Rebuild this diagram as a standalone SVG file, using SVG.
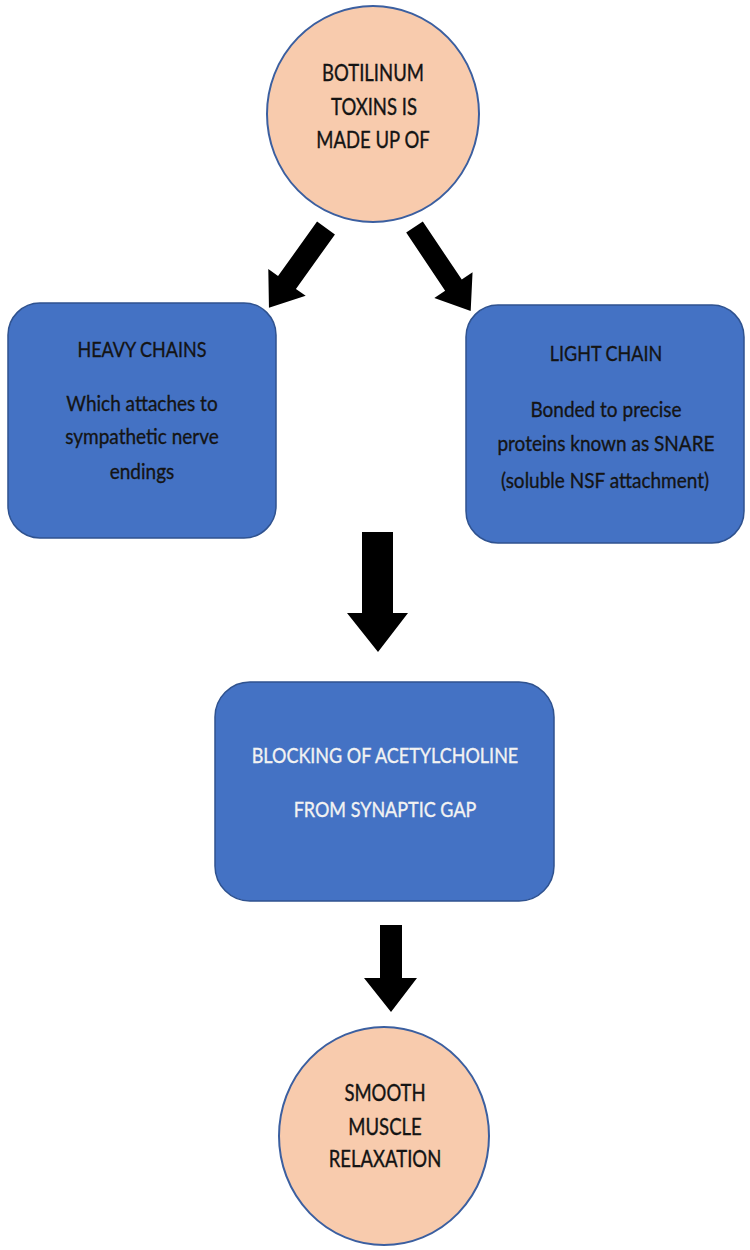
<svg xmlns="http://www.w3.org/2000/svg" width="750" height="1250" viewBox="0 0 750 1250">
<style>
.circle{fill:#F8CBAD;stroke:#3B5FA0;stroke-width:2}
.box{fill:#4472C4;stroke:#2F528F;stroke-width:1.5}
.t{font-family:Lato,"Liberation Sans",sans-serif;text-anchor:middle;fill:#141414;stroke:#141414;stroke-width:0.3}
.c{font-size:18.5px}
.u{font-size:18px}
.b{font-size:19px}
.w{fill:#F2F2F2;stroke:#F2F2F2}
.arrow{fill:#000}
</style>
<rect width="750" height="1250" fill="#fff"/>
<g id="connectors">
<polygon class="arrow" points="0,-11 67,-11 67,-23 98,0 67,23 67,11 0,11" transform="translate(326,228) rotate(125.6)"/>
<polygon class="arrow" points="0,-10 70,-10 70,-23 101,0 70,23 70,10 0,10" transform="translate(414.5,227) rotate(56.2)"/>
<polygon class="arrow" points="362,532 393,532 393,613 408,613 378,652 347,613 362,613"/>
<polygon class="arrow" points="380,925 402,925 402,978 417,978 391,1012 364,978 380,978"/>
</g>
<g id="node-toxin">
<ellipse class="circle" cx="373" cy="114" rx="106" ry="108"/>
<text class="t c" transform="translate(373,81) scale(1,1.2)">BOTILINUM</text>
<text class="t c" transform="translate(374,115) scale(1,1.2)">TOXINS IS</text>
<text class="t c" transform="translate(373,148) scale(1,1.2)">MADE UP OF</text>
</g>
<g id="node-heavy">
<rect class="box" x="8" y="303" width="268" height="235" rx="32"/>
<text class="t u" transform="translate(142,357) scale(1,1.15)">HEAVY CHAINS</text>
<text class="t b" transform="translate(142,411) scale(1,1.15)">Which attaches to</text>
<text class="t b" transform="translate(142,444) scale(1,1.15)">sympathetic nerve</text>
<text class="t b" transform="translate(142,479) scale(1,1.15)">endings</text>
</g>
<g id="node-light">
<rect class="box" x="466" y="305" width="278" height="238" rx="32"/>
<text class="t u" transform="translate(606,361) scale(1,1.15)">LIGHT CHAIN</text>
<text class="t b" transform="translate(606,417) scale(1,1.15)">Bonded to precise</text>
<text class="t b" transform="translate(606,451) scale(1,1.15)">proteins known as SNARE</text>
<text class="t b" transform="translate(605,488) scale(1,1.15)">(soluble NSF attachment)</text>
</g>
<g id="node-blocking">
<rect class="box" x="215" y="682" width="339" height="219" rx="35"/>
<text class="t u w" transform="translate(385,763) scale(1,1.18)">BLOCKING OF ACETYLCHOLINE</text>
<text class="t u w" transform="translate(385,817) scale(1,1.18)">FROM SYNAPTIC GAP</text>
</g>
<g id="node-relax">
<ellipse class="circle" cx="384" cy="1136" rx="105" ry="109"/>
<text class="t c" transform="translate(385,1101) scale(1,1.2)">SMOOTH</text>
<text class="t c" transform="translate(385,1135) scale(1,1.2)">MUSCLE</text>
<text class="t c" transform="translate(385,1167) scale(1,1.2)">RELAXATION</text>
</g>
</svg>
